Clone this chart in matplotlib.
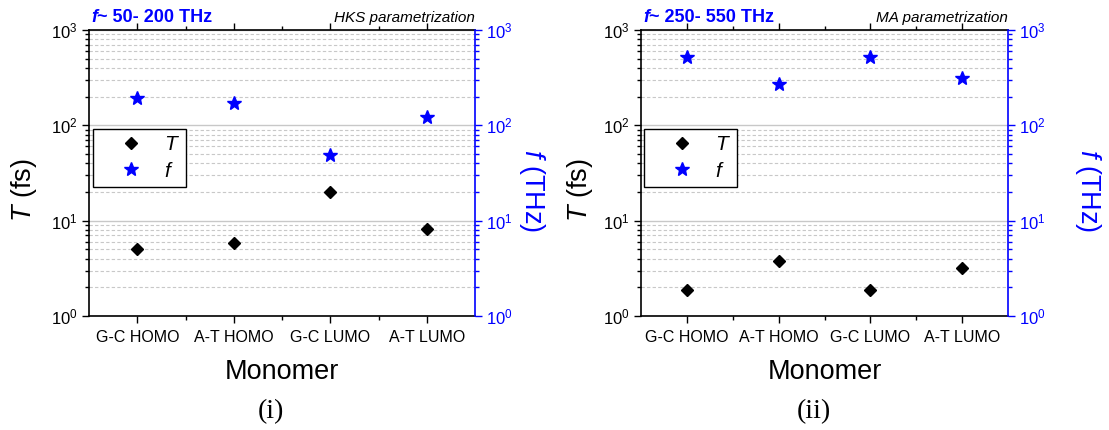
import numpy as np
import matplotlib
matplotlib.use("Agg")
import matplotlib.pyplot as plt
from matplotlib.lines import Line2D
from matplotlib.ticker import NullFormatter

plt.rcParams['font.family'] = ['Liberation Sans', 'DejaVu Sans']
plt.rcParams['mathtext.fontset'] = 'custom'
plt.rcParams['mathtext.rm'] = 'Liberation Sans'
plt.rcParams['mathtext.it'] = 'Liberation Sans:italic'
plt.rcParams['mathtext.bf'] = 'Liberation Sans:bold'

# data
categories = ["G-C HOMO", "A-T HOMO", "G-C LUMO", "A-T LUMO"]
T_hks = [5.1, 5.9, 20.2, 8.2]      # fs
f_hks = [194, 171, 49, 122]        # THz
T_ma = [1.87, 3.78, 1.87, 3.17]
f_ma = [526, 270, 526, 316]
ranges = ["~ 50- 200 THz", "~ 250- 550 THz"]
methods = ["HKS parametrization", "MA parametrization"]
panel_ids = ["(i)", "(ii)"]

W, H = 1109, 430
fig = plt.figure(figsize=(W / 100, H / 100), dpi=100)

# axes boxes in pixels (left, right) ; top/bottom are shared
boxes = [(89, 475), (641, 1008)]
top_px, bot_px = 30, 316
ylab_x = [(-0.168, 1.148), (-0.166, 1.218)]
legend_px = [93, 644]
id_x = [271, 814]


def draw_panel(px, T, f, rng, method, ylx, leg_l):
    l, r = px
    ax = fig.add_axes([l / W, 1 - bot_px / H, (r - l) / W, (bot_px - top_px) / H])
    ax2 = ax.twinx()
    x = np.arange(len(categories))

    for a in (ax, ax2):
        a.set_yscale('log')
        a.set_ylim(1, 1000)
        a.set_xlim(-0.5, len(categories) - 0.5)

    ax.plot(x, T, ls='none', marker='D', ms=6, color='black', zorder=3)
    ax2.plot(x, f, ls='none', marker='*', ms=10.5, color='blue', zorder=3)

    # grid
    ax.grid(which='major', axis='y', color='#c8c8c8', lw=1.0, ls='-')
    ax.grid(which='minor', axis='y', color='#c8c8c8', lw=0.8, ls=(0, (3, 2)))
    ax.set_axisbelow(True)

    # x axis
    ax.set_xticks(x)
    ax.set_xticklabels(categories, fontsize=11.5)
    ax.set_xticks(x[:-1] + 0.5, minor=True)
    ax.tick_params(axis='x', which='major', direction='out', length=5, width=1, pad=5,
                   top=True)
    ax.tick_params(axis='x', which='minor', direction='out', length=3, width=1, top=True)

    # left axis
    ax.tick_params(axis='y', which='major', direction='out', length=5, width=1,
                   labelsize=12, pad=3)
    ax.tick_params(axis='y', which='minor', direction='out', length=3, width=1)
    ax.yaxis.set_minor_formatter(NullFormatter())

    # right axis
    ax2.tick_params(axis='y', which='major', direction='out', length=5, width=1,
                    labelsize=12, pad=3, colors='blue')
    ax2.tick_params(axis='y', which='minor', direction='out', length=3, width=1,
                    colors='blue')
    ax2.yaxis.set_minor_formatter(NullFormatter())

    for s in ('left', 'bottom', 'top'):
        ax.spines[s].set_linewidth(1.2)
        ax.spines[s].set_color('black')
    ax.spines['right'].set_visible(False)
    for s in ('left', 'bottom', 'top'):
        ax2.spines[s].set_visible(False)
    ax2.spines['right'].set_color('blue')
    ax2.spines['right'].set_linewidth(1.2)

    # labels
    ax.set_ylabel("$T$ (fs)", fontsize=19.5)
    ax.yaxis.label.set_va('center')
    ax.yaxis.set_label_coords(ylx[0], 0.44)
    ax2.set_ylabel("$f$ (THz)", fontsize=19.5, color='blue', rotation=270)
    ax2.yaxis.label.set_va('center')
    ax2.yaxis.label.set_ha('center')
    ax2.yaxis.set_label_coords(ylx[1], 0.44)

    ax.set_xlabel("Monomer", fontsize=19.5)
    ax.xaxis.label.set_va('center')
    ax.xaxis.set_label_coords(0.5, (bot_px - 372) / (bot_px - top_px))

    # header texts
    yh = (bot_px - 18) / (bot_px - top_px)
    tf = ax.text(0.006, yh, "f", transform=ax.transAxes, fontsize=13,
                 fontweight='bold', fontstyle='italic', color='blue', va='center')
    ax.annotate(rng, xy=(1, 0), xycoords=tf, fontsize=13, fontweight='bold',
                color='blue', va='bottom', ha='left')
    ax.text(1.0, yh, method, transform=ax.transAxes, fontsize=11,
            fontstyle='italic', color='black', va='center', ha='right')

    # legend
    handles = [Line2D([], [], ls='none', marker='D', ms=6, color='black'),
               Line2D([], [], ls='none', marker='*', ms=10.5, color='blue')]
    leg = ax2.legend(handles, ["$T$", "$f$"], loc='upper left',
                     bbox_to_anchor=((leg_l - l) / (r - l), (bot_px - 129) / (bot_px - top_px)),
                     borderaxespad=0, fontsize=15, frameon=True, fancybox=False,
                     edgecolor='black', framealpha=1, borderpad=0.3,
                     handlelength=3.0, handletextpad=0.1, labelspacing=0.35)
    leg.get_frame().set_linewidth(1.0)
    return ax, ax2


for i in range(2):
    T = T_hks if i == 0 else T_ma
    f = f_hks if i == 0 else f_ma
    draw_panel(boxes[i], T, f, ranges[i], methods[i], ylab_x[i], legend_px[i])
    fig.text(id_x[i] / W, 1 - 412 / H, panel_ids[i], fontsize=20,
             family='Liberation Serif', ha='center', va='center')

fig.savefig("out.png", dpi=100)
